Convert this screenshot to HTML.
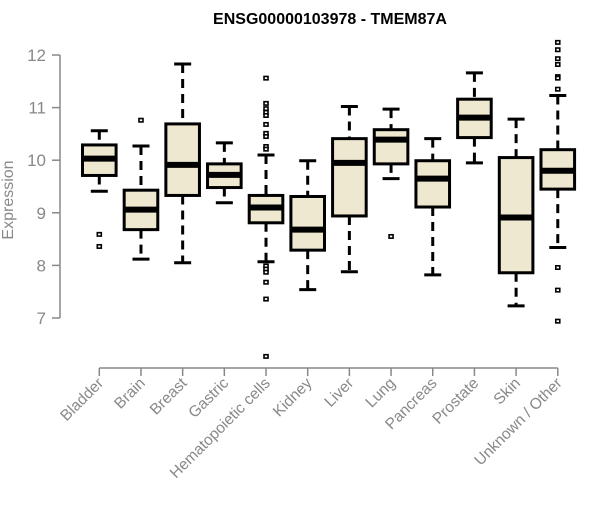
<!DOCTYPE html>
<html><head><meta charset="utf-8"><style>
body{margin:0;background:#fff;}
svg{font-family:"Liberation Sans",Arial,sans-serif;}
</style></head><body>
<svg id="chart" width="600" height="500" viewBox="0 0 600 500" xmlns="http://www.w3.org/2000/svg">
<text x="330" y="24" text-anchor="middle" font-size="16" font-weight="bold">ENSG00000103978 - TMEM87A</text>
<text transform="translate(13,200) rotate(-90)" text-anchor="middle" font-size="16" fill="#888">Expression</text>
<g id="yaxis"></g>
<g id="xaxis"></g>
<g id="boxes"></g>
</svg>
<script>
const categories=["Bladder","Brain","Breast","Gastric","Hematopoietic cells","Kidney","Liver","Lung","Pancreas","Prostate","Skin","Unknown / Other"];
const lowWhisker=[9.41,8.12,8.05,9.19,8.07,7.54,7.88,9.65,7.82,9.95,7.23,8.34];
const q1=[9.71,8.68,9.33,9.48,8.81,8.29,8.94,9.93,9.11,10.43,7.86,9.45];
const median=[10.03,9.06,9.91,9.72,9.10,8.68,9.95,10.39,9.65,10.81,8.91,9.80];
const q3=[10.29,9.43,10.69,9.93,9.33,9.31,10.41,10.58,9.99,11.16,10.05,10.20];
const highWhisker=[10.56,10.27,11.83,10.33,10.10,9.99,11.02,10.97,10.41,11.66,10.78,11.23];
const outliers=[[8.59,8.36],[10.76],[],[],[11.56,11.08,10.98,10.91,10.85,10.68,10.51,10.45,10.26,10.21,7.99,7.93,7.87,7.68,7.36,6.27],[],[],[8.55],[],[],[],[12.24,12.10,11.93,11.82,11.59,11.56,11.35,7.96,7.53,6.94]];
const yTicks=[7,8,9,10,11,12];
const NS="http://www.w3.org/2000/svg";
function y(v){return 318-(v-7)*52.6;}
function x(i){return 99.3+i*41.68;}
function mk(tag,attrs,parent){const e=document.createElementNS(NS,tag);for(const k in attrs)e.setAttribute(k,attrs[k]);parent.appendChild(e);return e;}
const ya=document.getElementById('yaxis'),xa=document.getElementById('xaxis'),bx=document.getElementById('boxes');
let l=mk('line',{x1:60,x2:60,y1:y(7),y2:y(12),stroke:'#888','stroke-width':1.5},ya);


yTicks.forEach(t=>{
 const tk=mk('line',{x1:52,x2:60,y1:y(t),y2:y(t),stroke:'#888','stroke-width':1.5},ya);
 
 
 const tx=mk('text',{x:46,y:y(t)+6,'text-anchor':'end','font-size':17,fill:'#888'},ya);
 
 
 tx.textContent=t;
});
l=mk('line',{x1:x(0),x2:x(categories.length-1),y1:368,y2:368,stroke:'#888','stroke-width':1.5},xa);


categories.forEach((c,i)=>{
 const cx=x(i);
 const tk=mk('line',{x1:cx,x2:cx,y1:368,y2:376,stroke:'#888','stroke-width':1.5},xa);
 
 
 const tx=mk('text',{transform:`translate(${cx+5},${384}) rotate(-45)`,'text-anchor':'end','font-size':15.5,fill:'#888'},xa);
 
 
 tx.textContent=c;
 const g=mk('g',{},bx);
 
 
 const hw=16.8;
 mk('line',{x1:cx,x2:cx,y1:y(highWhisker[i]),y2:y(q3[i]),stroke:'#000','stroke-width':3,'stroke-dasharray':'9,6'},g);
 mk('line',{x1:cx,x2:cx,y1:y(q1[i]),y2:y(lowWhisker[i]),stroke:'#000','stroke-width':3,'stroke-dasharray':'9,6'},g);
 mk('line',{x1:cx-8.5,x2:cx+8.5,y1:y(highWhisker[i]),y2:y(highWhisker[i]),stroke:'#000','stroke-width':3},g);
 mk('line',{x1:cx-8.5,x2:cx+8.5,y1:y(lowWhisker[i]),y2:y(lowWhisker[i]),stroke:'#000','stroke-width':3},g);
 mk('rect',{x:cx-hw,y:y(q3[i]),width:hw*2,height:y(q1[i])-y(q3[i]),fill:'#ede8cf',stroke:'#000','stroke-width':3},g);
 mk('line',{x1:cx-hw,x2:cx+hw,y1:y(median[i]),y2:y(median[i]),stroke:'#000','stroke-width':6},g);
 outliers[i].forEach(o=>{
  const p=mk('rect',{x:cx-2,y:y(o)-1.7,width:4,height:3.4,fill:'#fff',stroke:'#000','stroke-width':1.6},g);
  
  
 });
});
</script>
</body></html>
